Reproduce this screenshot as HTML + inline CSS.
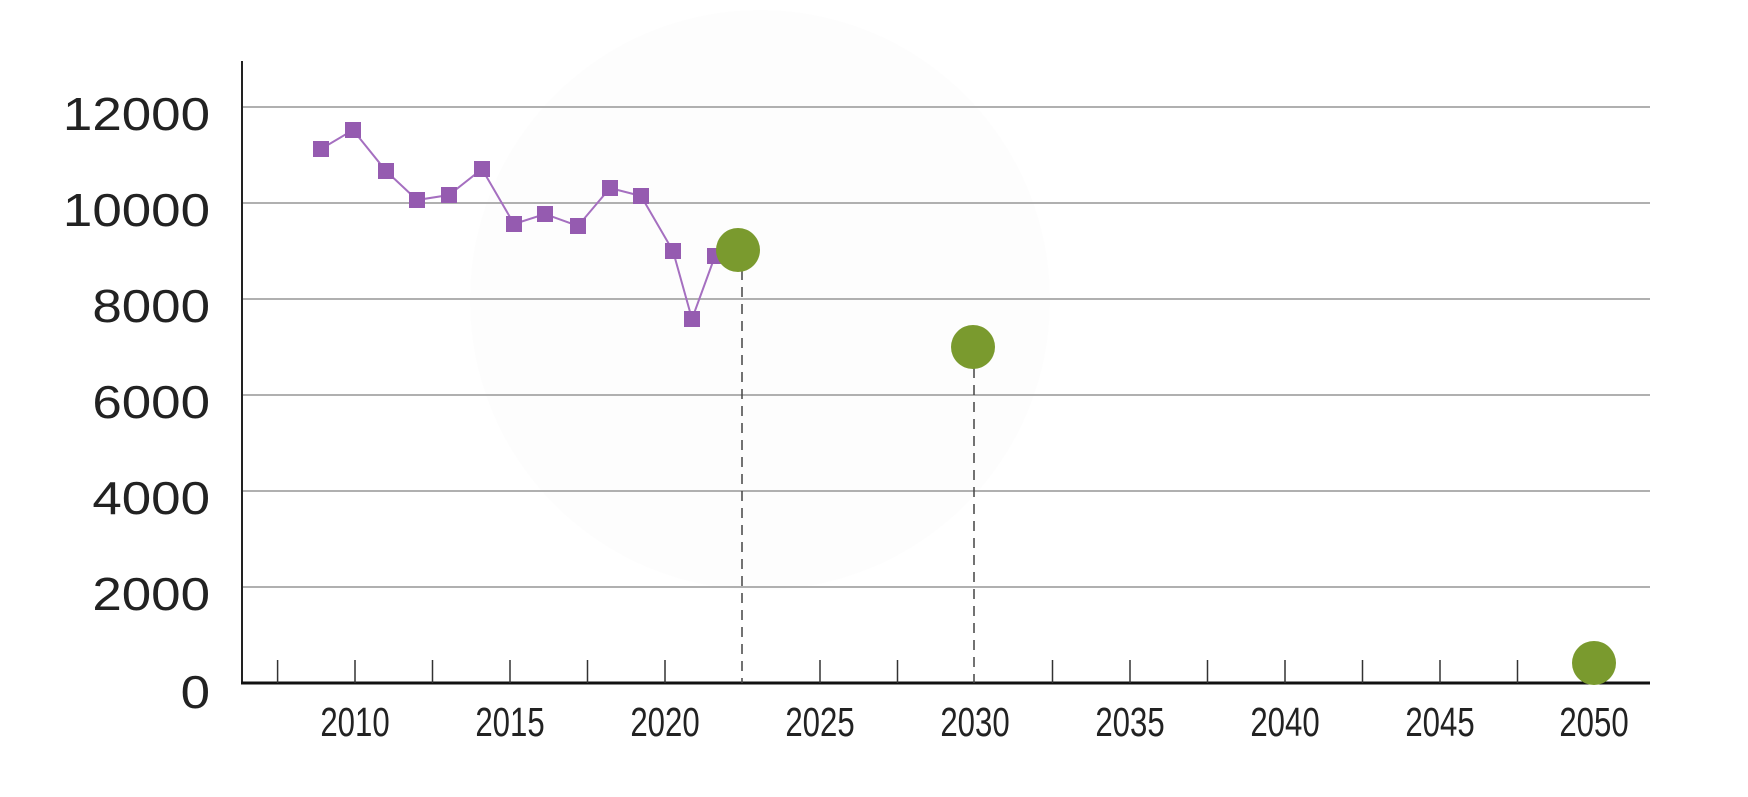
<!DOCTYPE html>
<html><head><style>html,body{margin:0;padding:0;background:#fff}</style></head>
<body>
<svg width="1748" height="792" viewBox="0 0 1748 792" xmlns="http://www.w3.org/2000/svg">
<circle cx="760" cy="300" r="290" fill="#fdfdfd"/>
<g stroke="#b0b0b0" stroke-width="2">
<line x1="241" x2="1650" y1="107" y2="107"/>
<line x1="241" x2="1650" y1="203" y2="203"/>
<line x1="241" x2="1650" y1="299" y2="299"/>
<line x1="241" x2="1650" y1="395" y2="395"/>
<line x1="241" x2="1650" y1="491" y2="491"/>
<line x1="241" x2="1650" y1="587" y2="587"/>
</g>
<line x1="242" x2="242" y1="61" y2="684" stroke="#222" stroke-width="2"/>
<line x1="241" x2="1650" y1="683" y2="683" stroke="#111" stroke-width="3"/>
<g stroke="#333" stroke-width="1.5">
<line x1="277.6" x2="277.6" y1="660" y2="683"/>
<line x1="355" x2="355" y1="660" y2="683"/>
<line x1="432.5" x2="432.5" y1="660" y2="683"/>
<line x1="510" x2="510" y1="660" y2="683"/>
<line x1="587.5" x2="587.5" y1="660" y2="683"/>
<line x1="665" x2="665" y1="660" y2="683"/>
<line x1="820" x2="820" y1="660" y2="683"/>
<line x1="897.5" x2="897.5" y1="660" y2="683"/>
<line x1="1052.5" x2="1052.5" y1="660" y2="683"/>
<line x1="1130" x2="1130" y1="660" y2="683"/>
<line x1="1207.5" x2="1207.5" y1="660" y2="683"/>
<line x1="1285" x2="1285" y1="660" y2="683"/>
<line x1="1362.5" x2="1362.5" y1="660" y2="683"/>
<line x1="1440" x2="1440" y1="660" y2="683"/>
<line x1="1517.5" x2="1517.5" y1="660" y2="683"/>
</g>
<g stroke="#444" stroke-width="1.5" stroke-dasharray="10,7">
<line x1="742" x2="742" y1="270" y2="683"/>
<line x1="974" x2="974" y1="368" y2="683"/>
</g>
<polyline fill="none" stroke="#a56fc0" stroke-width="2" points="321,149 353,130 386,171 417,200 449,195 482,169 514,224 545,214 578,226 610,188 641,196 673,251 692,319 715,256"/>
<g fill="#955bb0">
<rect x="313" y="141" width="16" height="16"/><rect x="345" y="122" width="16" height="16"/>
<rect x="378" y="163" width="16" height="16"/><rect x="409" y="192" width="16" height="16"/>
<rect x="441" y="187" width="16" height="16"/><rect x="474" y="161" width="16" height="16"/>
<rect x="506" y="216" width="16" height="16"/><rect x="537" y="206" width="16" height="16"/>
<rect x="570" y="218" width="16" height="16"/><rect x="602" y="180" width="16" height="16"/>
<rect x="633" y="188" width="16" height="16"/><rect x="665" y="243" width="16" height="16"/>
<rect x="684" y="311" width="16" height="16"/><rect x="707" y="248" width="16" height="16"/>
</g>
<g fill="#7a9a2e">
<circle cx="738" cy="250" r="22"/>
<circle cx="973" cy="347" r="22"/>
<circle cx="1594" cy="663" r="22"/>
</g>
<g font-family="Liberation Sans, sans-serif" font-size="46" fill="#222" text-anchor="end">
<text transform="translate(210,130) scale(1.15,1)">12000</text>
<text transform="translate(210,226) scale(1.15,1)">10000</text>
<text transform="translate(210,322) scale(1.15,1)">8000</text>
<text transform="translate(210,418) scale(1.15,1)">6000</text>
<text transform="translate(210,514) scale(1.15,1)">4000</text>
<text transform="translate(210,610) scale(1.15,1)">2000</text>
<text transform="translate(210,708) scale(1.15,1)">0</text>
</g>
<g font-family="Liberation Sans, sans-serif" font-size="41" fill="#222" text-anchor="middle">
<text transform="translate(355,736) scale(0.76,1)">2010</text>
<text transform="translate(510,736) scale(0.76,1)">2015</text>
<text transform="translate(665,736) scale(0.76,1)">2020</text>
<text transform="translate(820,736) scale(0.76,1)">2025</text>
<text transform="translate(975,736) scale(0.76,1)">2030</text>
<text transform="translate(1130,736) scale(0.76,1)">2035</text>
<text transform="translate(1285,736) scale(0.76,1)">2040</text>
<text transform="translate(1440,736) scale(0.76,1)">2045</text>
<text transform="translate(1594,736) scale(0.76,1)">2050</text>
</g>
</svg>
</body></html>
